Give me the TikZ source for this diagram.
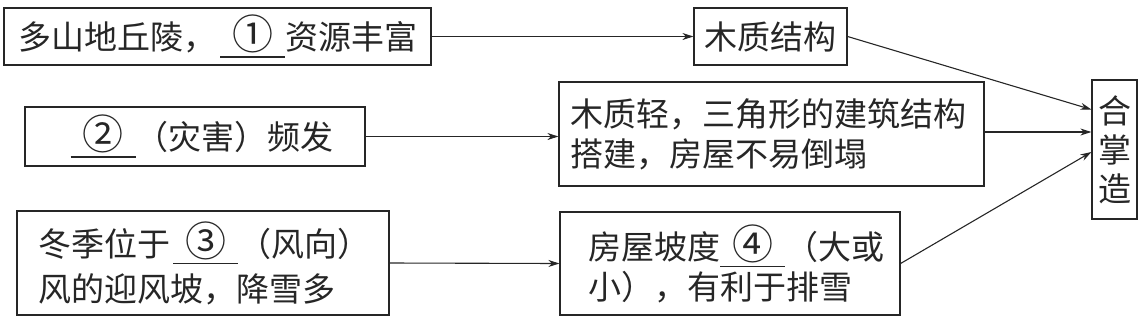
\documentclass[tikz,border=0pt]{standalone}
\usepackage{fontspec}
\setmainfont{Noto Sans CJK SC}
\usetikzlibrary{arrows.meta,calc}
\newcommand\blankno[1]{\makebox[65pt][c]{\fontsize{41}{40}\selectfont #1}\llap{\rule[-8pt]{65pt}{1.4pt}}}
\begin{document}
\begin{tikzpicture}[x=1pt,y=-1pt,
  box/.style={draw=black!85, line width=1.2pt, inner sep=0pt, text=black!85, font=\fontsize{33}{40}\selectfont},
  arr/.style={draw=black!85, -{Stealth[length=11pt,width=7pt]}, line width=1.1pt}]
\useasboundingbox (0,0) rectangle (1145,322);
\node[box, minimum width=427pt, minimum height=57pt] (A) at (217.5,36.5) {多山地丘陵，\hspace{4pt}\blankno{①}资源丰富};
\node[box, minimum width=340pt, minimum height=59pt] (B) at (195,136.5) {\hspace*{14pt}\blankno{②}（灾害）频发};
\node[box, minimum width=372pt, minimum height=104pt, align=left, text width=342pt, inner xsep=15pt, font=\fontsize{33}{45}\selectfont] (C) at (203,263) {\hspace*{6pt}冬季位于\hspace{3pt}\blankno{③}（风向）\\\hspace*{6pt}风的迎风坡，降雪多};
\node[box, minimum width=153pt, minimum height=57pt] (D) at (770.5,36.5) {木质结构};
\node[box, minimum width=425pt, minimum height=104pt, align=left, text width=403pt, inner xsep=11pt] (E) at (771.5,134) {木质轻，三角形的建筑结构\\搭建，房屋不易倒塌};
\node[box, minimum width=340pt, minimum height=103pt, align=left, text width=320pt, inner xsep=10pt] (F) at (730,263.5) {\hspace*{18pt}房屋坡度\blankno{④}（大或\\\hspace*{18pt}小），有利于排雪};
\node[box, minimum width=45pt, minimum height=139pt, align=center, font=\fontsize{33}{39}\selectfont] (G) at (1114.5,149.5) {合\\掌\\造};
\coordinate (Ein) at ($(E.east)+(0,-2)$);
\draw[arr] (A.east) -- (D.west);
\draw[arr] (B.east) -- (B.east -| E.west);
\draw[arr] (C.east) -- (F.west);
\draw[arr] (D.east) -- ($(G.west)+(0,-40)$);
\draw[arr] (Ein) -- (Ein -| G.west);
\draw[arr] (F.east) -- ($(G.west)+(0,2.5)$);
\end{tikzpicture}
\end{document}
